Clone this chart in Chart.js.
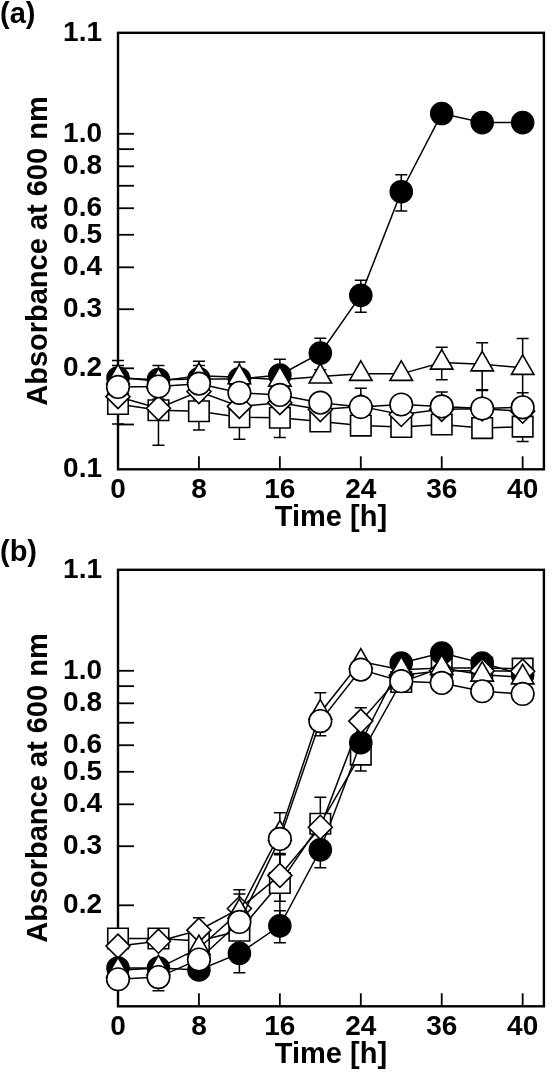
<!DOCTYPE html>
<html>
<head>
<meta charset="utf-8">
<script src="https://cdn.jsdelivr.net/npm/chart.js@4.4.0/dist/chart.umd.min.js"></script>
<style>
  body { margin: 0; background: #fff; }
  #wrap { position: relative; width: 560px; height: 1077px; overflow: hidden; }
  canvas { position: absolute; left: 0; }
  #chartA { top: 0; }
  #chartB { top: 537px; }
  .panel-label { position: absolute; left: 0; font: bold 29px "Liberation Sans", Arial, sans-serif; line-height: 29px; }
</style>
</head>
<body>
<div id="wrap">
  <canvas id="chartA" width="560" height="537"></canvas>
  <canvas id="chartB" width="560" height="537"></canvas>
  <div class="panel-label" style="top:-1px">(a)</div>
  <div class="panel-label" style="top:537px">(b)</div>
</div>
<script>
// sampling times, as placed on the axis
const times = [0, 4, 8, 12, 16, 20, 24, 28, 32, 36, 40];
const xTickValues = [0, 8, 16, 24, 32, 40];
const xTickLabels = ['0', '8', '16', '24', '36', '40'];

const yTicksA = [0.1, 0.136, 0.2, 0.3, 0.4, 0.5, 0.6, 0.7, 0.8, 0.9, 1.0, 2.0];
const yLabelsA = ['0.1', '', '0.2', '0.3', '0.4', '0.5', '0.6', '', '0.8', '', '1.0', '1.1'];
const yTicksB = [0.1, 0.2, 0.3, 0.4, 0.5, 0.6, 0.7, 0.8, 0.9, 1.0, 2.0];
const yLabelsB = ['', '0.2', '0.3', '0.4', '0.5', '0.6', '', '0.8', '', '1.0', '1.1'];

// panel (a)
const aFilled = [0.187, 0.185, 0.186, 0.186, 0.191, 0.222, 0.33, 0.672, 1.149, 1.08, 1.08];
const aFilledErr = [0.024, 0, 0.024, 0, 0.022, 0.024, 0.036, 0.083, 0, 0, 0];
const aTriangle = [0.188, 0.183, 0.19, 0.188, 0.185, 0.189, 0.1925, 0.1925, 0.208, 0.2055, 0.2006];
const aTriangleErr = [0.016, 0.021, 0.014, 0.021, 0, 0, 0, 0, 0.023, 0.033, 0.045];
const aCircle = [0.176, 0.1765, 0.18, 0.169, 0.1666, 0.158, 0.1534, 0.156, 0.154, 0.1518, 0.153];
const aCircleErr = [0.023, 0, 0, 0, 0, 0, 0.021, 0, 0.016, 0.02, 0.016];
const aDiamond = [0.1646, 0.152, 0.1705, 0.154, 0.158, 0.1507, 0.154, 0.1457, 0.151, 0.1515, 0.149];
const aDiamondErr = [0, 0, 0, 0, 0, 0, 0, 0, 0, 0, 0];
const aSquare = [0.1565, 0.150, 0.149, 0.143, 0.1424, 0.1388, 0.135, 0.1337, 0.136, 0.1327, 0.134];
const aSquareErr = [0.02, 0.032, 0.018, 0.02, 0.018, 0, 0, 0, 0, 0, 0.013];

// panel (b)
const bFilled = [0.130, 0.130, 0.1284, 0.1438, 0.1737, 0.2927, 0.6105, 1.055, 1.13, 1.055, 0.974];
const bFilledErr = [0, 0, 0, 0.018, 0.019, 0.034, 0, 0, 0, 0, 0];
const bTriangle = [0.128, 0.13, 0.149, 0.1913, 0.327, 0.75, 1.065, 1.008, 1.02, 0.974, 0.956];
const bTriangleErr = [0, 0, 0, 0.025, 0, 0.11, 0, 0, 0, 0, 0];
const bCircle = [0.1204, 0.1222, 0.1379, 0.1784, 0.3155, 0.708, 1.008, 0.931, 0.92, 0.869, 0.853];
const bCircleErr = [0, 0.011, 0, 0, 0.062, 0, 0, 0, 0, 0, 0];
const bDiamond = [0.1512, 0.1563, 0.1686, 0.1956, 0.2456, 0.3416, 0.708, 0.97, 1.0, 1.0, 0.997];
const bDiamondErr = [0, 0, 0.015, 0.027, 0.04, 0, 0.068, 0, 0, 0, 0];
const bSquare = [0.1593, 0.1593, 0.1565, 0.168, 0.233, 0.35, 0.5625, 0.926, 1.02, 1.02, 1.015];
const bSquareErr = [0, 0, 0, 0, 0.05, 0.07, 0.06, 0, 0, 0, 0];

const FONT = '"Liberation Sans", Arial, sans-serif';
const PLOT_TOP = 31.5;
const PLOT_BOTTOM = 469.3;
const PLOT_LEFT = 118;

// marker styles: order 0 is drawn on top
const markers = {
    circle:   { pointStyle: 'circle',   pointRadius: 11.3, bg: '#fff', order: 0 },
    triangle: { pointStyle: 'triangle', pointRadius: 13,   bg: '#fff', order: 1 },
    diamond:  { pointStyle: 'rectRot',  pointRadius: 12,   bg: '#fff', order: 2 },
    filled:   { pointStyle: 'circle',   pointRadius: 11,   bg: '#000', order: 3 },
    square:   { pointStyle: 'rect',     pointRadius: 14.5, bg: '#fff', order: 4 }
};

// frame, inward ticks and error bars
const framePlugin = {
    id: 'frame',
    beforeDatasetsDraw(chart) {
        const { ctx, chartArea: a, scales: { x, y } } = chart;
        ctx.save();
        ctx.strokeStyle = '#000';
        ctx.lineWidth = 1.8;
        y.ticks.forEach(t => {
            if (t.value <= y.min || t.value >= y.max) return;
            const py = y.getPixelForValue(t.value);
            ctx.beginPath();
            ctx.moveTo(a.left, py);
            ctx.lineTo(a.left + 16, py);
            ctx.stroke();
        });
        x.ticks.forEach(t => {
            if (t.value <= x.min || t.value >= x.max) return;
            const px = x.getPixelForValue(t.value);
            ctx.beginPath();
            ctx.moveTo(px, a.bottom);
            ctx.lineTo(px, a.bottom - 13);
            ctx.stroke();
        });
        ctx.lineWidth = 2.4;
        ctx.strokeRect(a.left, a.top, a.right - a.left, a.bottom - a.top);

        // error bars
        ctx.lineWidth = 1.5;
        chart.data.datasets.forEach((ds, i) => {
            const meta = chart.getDatasetMeta(i);
            ds.errors.forEach((e, j) => {
                if (!e) return;
                const v = ds.data[j].y;
                const px = meta.data[j].x;
                const top = y.getPixelForValue(v + e);
                const bot = y.getPixelForValue(v - e);
                ctx.beginPath();
                ctx.moveTo(px, top); ctx.lineTo(px, bot);
                ctx.moveTo(px - 6, top); ctx.lineTo(px + 6, top);
                ctx.moveTo(px - 6, bot); ctx.lineTo(px + 6, bot);
                ctx.stroke();
            });
        });
        ctx.restore();
    }
};

function makeDataset(values, errors, kind) {
    const m = markers[kind];
    return {
        data: times.map((t, i) => ({ x: t, y: values[i] })),
        errors: errors,
        order: m.order,
        borderColor: '#000',
        borderWidth: 1.5,
        pointStyle: m.pointStyle,
        pointRadius: m.pointRadius,
        pointBackgroundColor: m.bg,
        pointBorderColor: '#000',
        pointBorderWidth: 1.6,
        tension: 0,
        fill: false,
        clip: false
    };
}

function makeChart(id, datasets, yTicks, yLabels) {
    const canvas = document.getElementById(id);
    return new Chart(canvas.getContext('2d'), {
        type: 'line',
        data: { datasets },
        plugins: [framePlugin],
        options: {
            responsive: false,
            animation: false,
            layout: { padding: { left: 0, right: 2.5, top: PLOT_TOP, bottom: 0 } },
            plugins: { legend: { display: false }, tooltip: { enabled: false } },
            scales: {
                x: {
                    type: 'linear',
                    min: 0,
                    max: 42.1,
                    grid: { display: false, drawTicks: false },
                    border: { display: false },
                    afterBuildTicks: scale => { scale.ticks = xTickValues.map(v => ({ value: v })); },
                    afterFit: scale => { scale.height = canvas.height - PLOT_BOTTOM; },
                    ticks: {
                        autoSkip: false,
                        maxRotation: 0,
                        padding: 4,
                        color: '#000',
                        font: { family: FONT, size: 28, weight: 'bold' },
                        callback: (v, i) => xTickLabels[i]
                    },
                    title: {
                        display: true,
                        text: 'Time [h]',
                        color: '#000',
                        padding: 2,
                        font: { family: FONT, size: 29, weight: 'bold' }
                    }
                },
                y: {
                    type: 'logarithmic',
                    min: 0.1,
                    max: 2.0,
                    grid: { display: false, drawTicks: false },
                    border: { display: false },
                    afterBuildTicks: scale => { scale.ticks = yTicks.map(v => ({ value: v })); },
                    afterFit: scale => { scale.width = PLOT_LEFT; },
                    ticks: {
                        autoSkip: false,
                        padding: 16,
                        color: '#000',
                        font: { family: FONT, size: 28, weight: 'bold' },
                        callback: (v, i) => yLabels[i]
                    },
                    title: {
                        display: true,
                        text: 'Absorbance at 600 nm',
                        color: '#000',
                        padding: 22,
                        font: { family: FONT, size: 29, weight: 'bold' }
                    }
                }
            }
        }
    });
}

makeChart('chartA', [
    makeDataset(aFilled, aFilledErr, 'filled'),
    makeDataset(aTriangle, aTriangleErr, 'triangle'),
    makeDataset(aCircle, aCircleErr, 'circle'),
    makeDataset(aDiamond, aDiamondErr, 'diamond'),
    makeDataset(aSquare, aSquareErr, 'square')
], yTicksA, yLabelsA);

makeChart('chartB', [
    makeDataset(bFilled, bFilledErr, 'filled'),
    makeDataset(bTriangle, bTriangleErr, 'triangle'),
    makeDataset(bCircle, bCircleErr, 'circle'),
    makeDataset(bDiamond, bDiamondErr, 'diamond'),
    makeDataset(bSquare, bSquareErr, 'square')
], yTicksB, yLabelsB);
</script>
</body>
</html>
